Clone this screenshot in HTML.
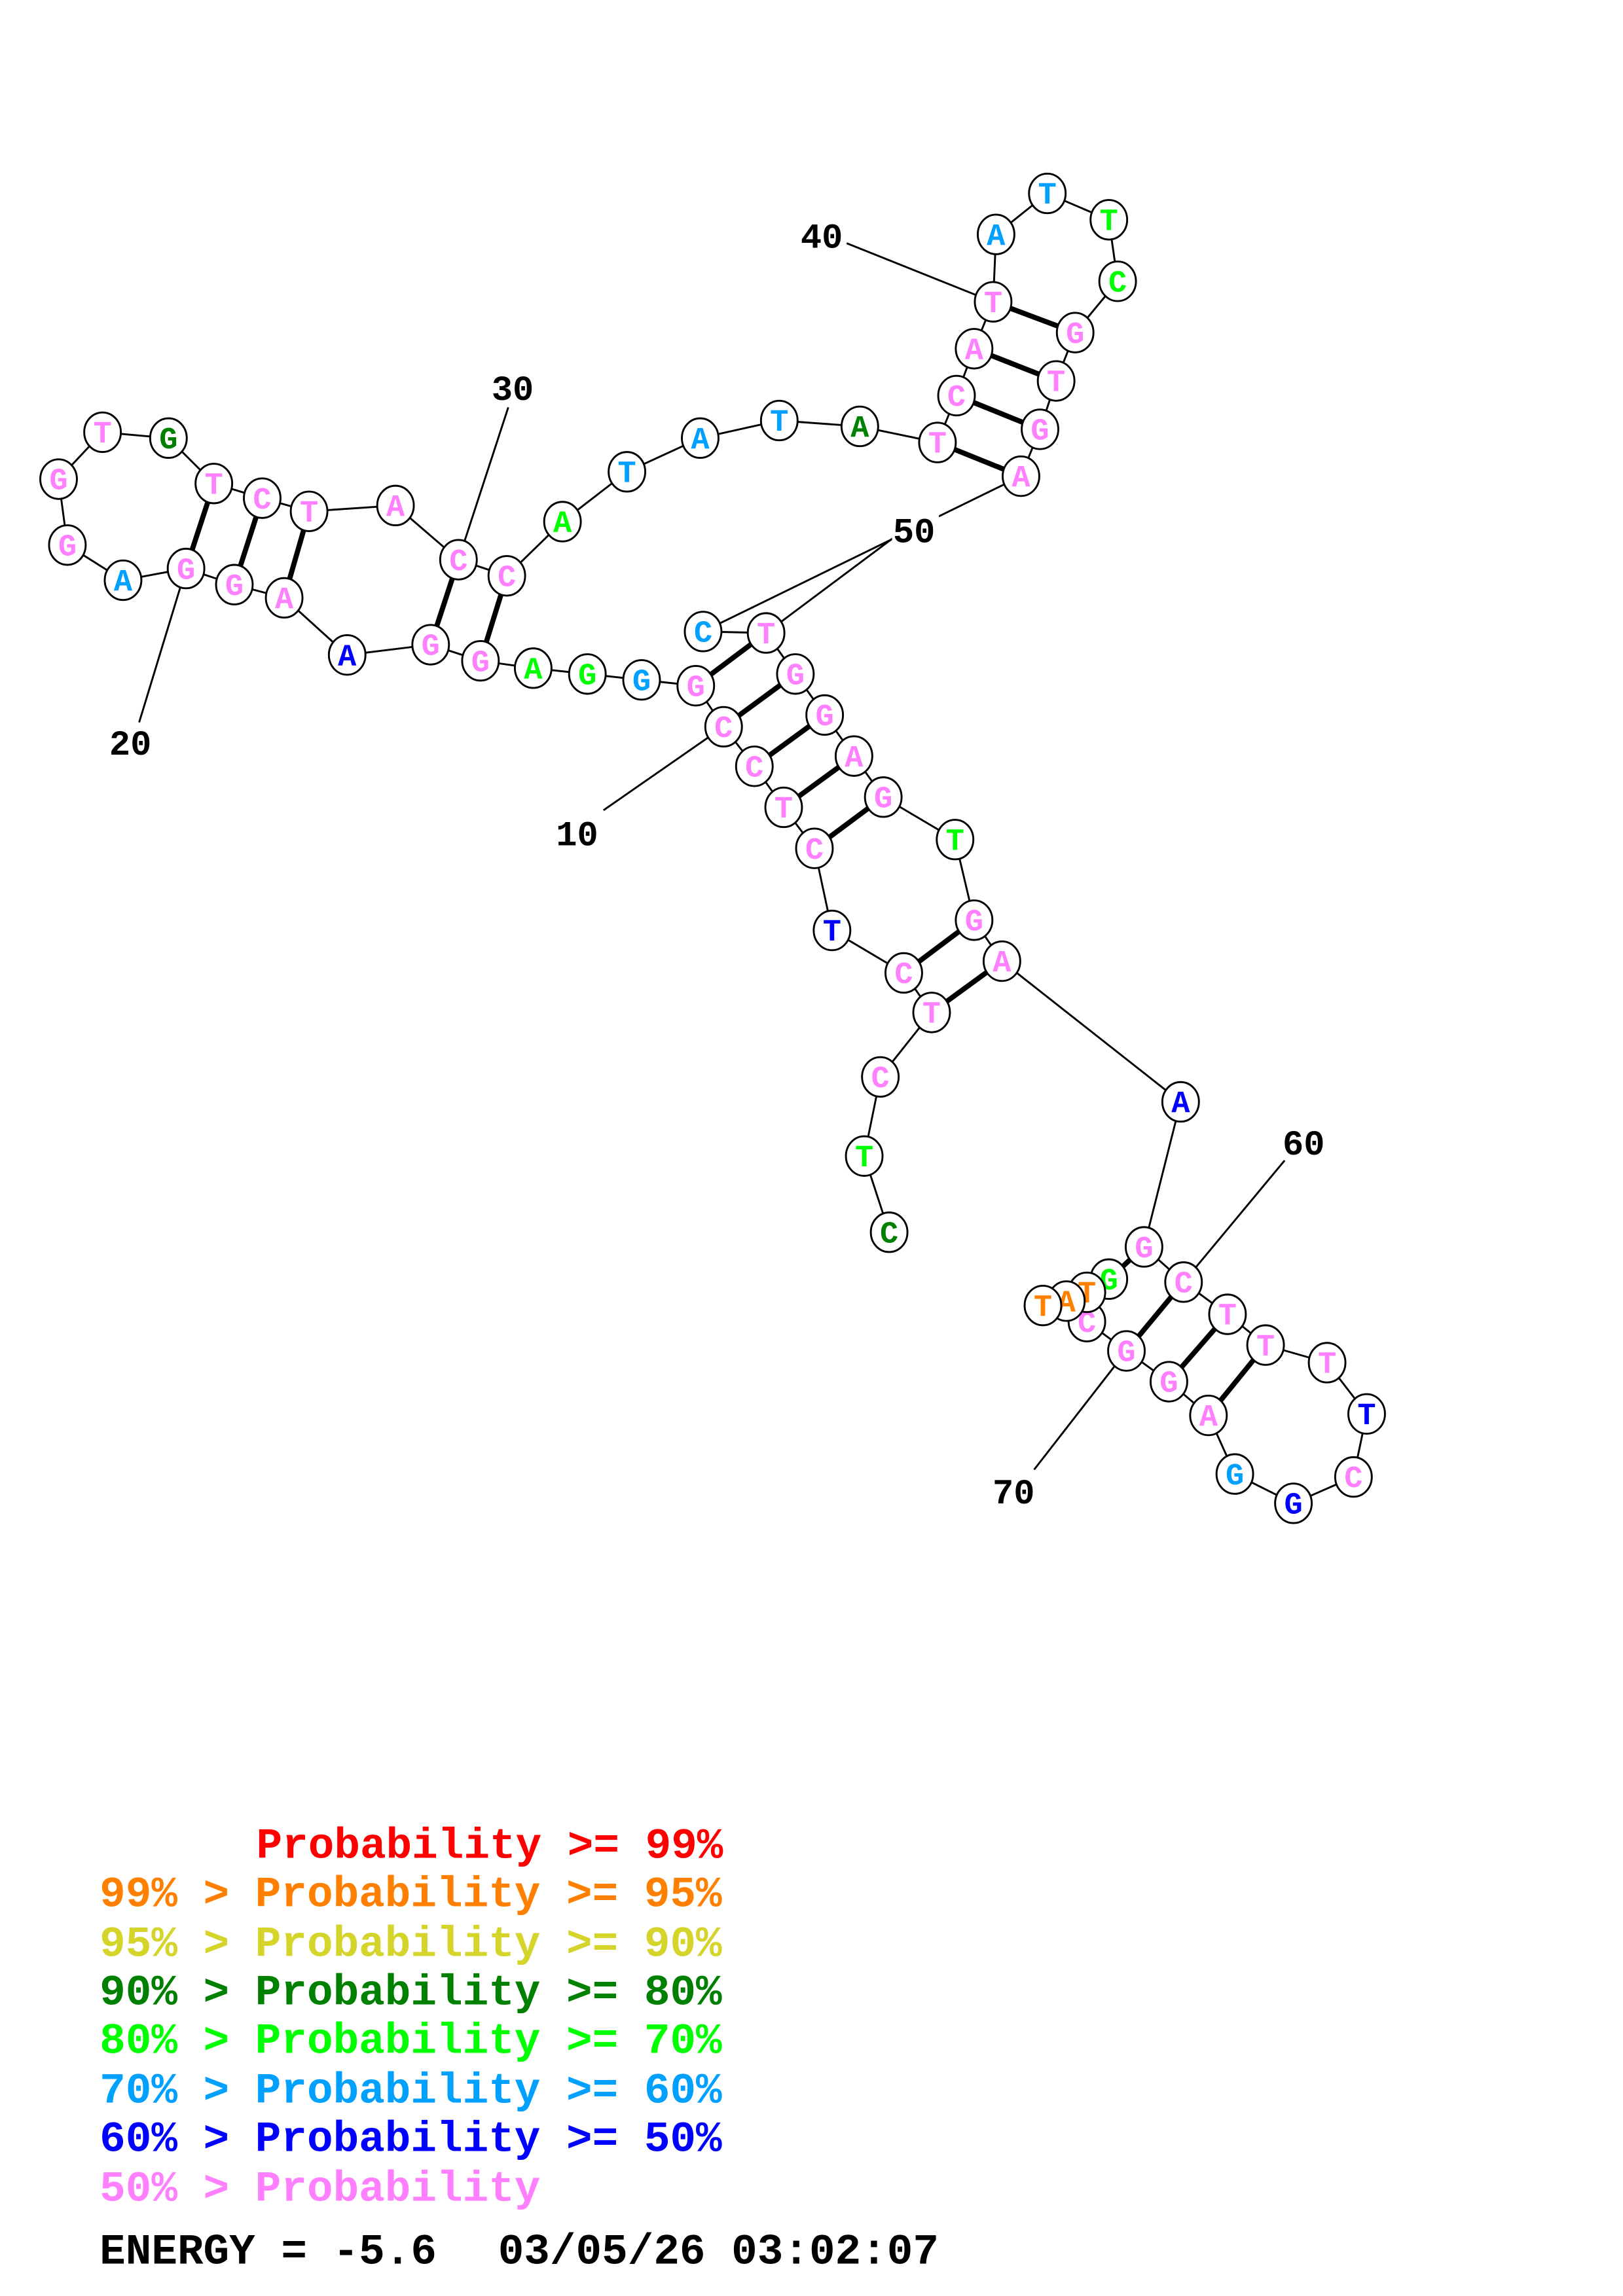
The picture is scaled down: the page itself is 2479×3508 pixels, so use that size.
<!DOCTYPE html>
<html><head><meta charset="utf-8"><style>
html,body{margin:0;padding:0;background:#fff;}
svg{display:block;}
.n{font-family:"Liberation Mono",monospace;font-weight:bold;font-size:21px;text-anchor:middle;}
.l{font-family:"Liberation Mono",monospace;font-weight:bold;font-size:24px;text-anchor:middle;fill:#000;}
.g{font-family:"Liberation Mono",monospace;font-weight:bold;font-size:29.5px;white-space:pre;}
</style></head><body>
<svg width="2479" height="3508" viewBox="0 0 1108 1567" preserveAspectRatio="none" xmlns="http://www.w3.org/2000/svg">
<rect width="1108" height="1567" fill="#fff"/>
<g stroke="#000" stroke-width="1.3" fill="none">
<line x1="412" y1="553" x2="494" y2="496"/>
<line x1="95" y1="493" x2="127" y2="388"/>
<line x1="347" y1="278" x2="313" y2="382"/>
<line x1="578" y1="166" x2="678" y2="206"/>
<line x1="610" y1="367" x2="523" y2="432"/>
<line x1="877" y1="792" x2="808" y2="875"/>
<line x1="706" y1="1003" x2="769" y2="922"/>
<polyline points="607,841 590,789 601,735 636,691 617,664 568,635 556,579 535,551 515,523 494,496 475,468 438,464 401,460 364,456 328,451 294,440 237,447 194,408 160,399 127,388 84,396 46,372 40,327 70,295 115,299 146,330 179,340 211,349 270,345 313,382 346,393 384,356 428,322 478,299 532,287 587,291 640,302 653,270 665,238 678,206 680,160 715,132 757,150 763,192 734,227 721,260 710,293 697,325 480,431 523,432 543,460 563,488 583,516 603,544 652,573 665,628 684,656 806,752 781,851 808,875 838,897 864,918 906,930 933,965 924,1008 883,1026 843,1006 825,966 798,943 769,922 742,902 757,873 742,882 728,888 712,891"/>
</g>
<g stroke="#000" stroke-width="3.5">
<line x1="636" y1="691" x2="684" y2="656"/>
<line x1="617" y1="664" x2="665" y2="628"/>
<line x1="556" y1="579" x2="603" y2="544"/>
<line x1="535" y1="551" x2="583" y2="516"/>
<line x1="515" y1="523" x2="563" y2="488"/>
<line x1="494" y1="496" x2="543" y2="460"/>
<line x1="475" y1="468" x2="523" y2="432"/>
<line x1="328" y1="451" x2="346" y2="393"/>
<line x1="294" y1="440" x2="313" y2="382"/>
<line x1="194" y1="408" x2="211" y2="349"/>
<line x1="160" y1="399" x2="179" y2="340"/>
<line x1="127" y1="388" x2="146" y2="330"/>
<line x1="640" y1="302" x2="697" y2="325"/>
<line x1="653" y1="270" x2="710" y2="293"/>
<line x1="665" y1="238" x2="721" y2="260"/>
<line x1="678" y1="206" x2="734" y2="227"/>
<line x1="757" y1="873" x2="781" y2="851"/>
<line x1="769" y1="922" x2="808" y2="875"/>
<line x1="798" y1="943" x2="838" y2="897"/>
<line x1="825" y1="966" x2="864" y2="918"/>
</g>
<text class="l" x="394" y="577">10</text>
<text class="l" x="89" y="515">20</text>
<text class="l" x="350" y="273">30</text>
<text class="l" x="561" y="169">40</text>
<rect x="609" y="350" width="32" height="22" fill="#fff"/>
<text class="l" x="624" y="370">50</text>
<text class="l" x="890" y="788">60</text>
<text class="l" x="692" y="1026">70</text>
<g class="n">
<ellipse cx="607" cy="841" rx="12.5" ry="13.5" fill="#fff" stroke="#000" stroke-width="1.3"/><text x="607" y="848" fill="#008000">C</text>
<ellipse cx="590" cy="789" rx="12.5" ry="13.5" fill="#fff" stroke="#000" stroke-width="1.3"/><text x="590" y="796" fill="#00ff00">T</text>
<ellipse cx="601" cy="735" rx="12.5" ry="13.5" fill="#fff" stroke="#000" stroke-width="1.3"/><text x="601" y="742" fill="#ff80ff">C</text>
<ellipse cx="636" cy="691" rx="12.5" ry="13.5" fill="#fff" stroke="#000" stroke-width="1.3"/><text x="636" y="698" fill="#ff80ff">T</text>
<ellipse cx="617" cy="664" rx="12.5" ry="13.5" fill="#fff" stroke="#000" stroke-width="1.3"/><text x="617" y="671" fill="#ff80ff">C</text>
<ellipse cx="568" cy="635" rx="12.5" ry="13.5" fill="#fff" stroke="#000" stroke-width="1.3"/><text x="568" y="642" fill="#0000ff">T</text>
<ellipse cx="556" cy="579" rx="12.5" ry="13.5" fill="#fff" stroke="#000" stroke-width="1.3"/><text x="556" y="586" fill="#ff80ff">C</text>
<ellipse cx="535" cy="551" rx="12.5" ry="13.5" fill="#fff" stroke="#000" stroke-width="1.3"/><text x="535" y="558" fill="#ff80ff">T</text>
<ellipse cx="515" cy="523" rx="12.5" ry="13.5" fill="#fff" stroke="#000" stroke-width="1.3"/><text x="515" y="530" fill="#ff80ff">C</text>
<ellipse cx="494" cy="496" rx="12.5" ry="13.5" fill="#fff" stroke="#000" stroke-width="1.3"/><text x="494" y="503" fill="#ff80ff">C</text>
<ellipse cx="475" cy="468" rx="12.5" ry="13.5" fill="#fff" stroke="#000" stroke-width="1.3"/><text x="475" y="475" fill="#ff80ff">G</text>
<ellipse cx="438" cy="464" rx="12.5" ry="13.5" fill="#fff" stroke="#000" stroke-width="1.3"/><text x="438" y="471" fill="#00a0ff">G</text>
<ellipse cx="401" cy="460" rx="12.5" ry="13.5" fill="#fff" stroke="#000" stroke-width="1.3"/><text x="401" y="467" fill="#00ff00">G</text>
<ellipse cx="364" cy="456" rx="12.5" ry="13.5" fill="#fff" stroke="#000" stroke-width="1.3"/><text x="364" y="463" fill="#00ff00">A</text>
<ellipse cx="328" cy="451" rx="12.5" ry="13.5" fill="#fff" stroke="#000" stroke-width="1.3"/><text x="328" y="458" fill="#ff80ff">G</text>
<ellipse cx="294" cy="440" rx="12.5" ry="13.5" fill="#fff" stroke="#000" stroke-width="1.3"/><text x="294" y="447" fill="#ff80ff">G</text>
<ellipse cx="237" cy="447" rx="12.5" ry="13.5" fill="#fff" stroke="#000" stroke-width="1.3"/><text x="237" y="454" fill="#0000ff">A</text>
<ellipse cx="194" cy="408" rx="12.5" ry="13.5" fill="#fff" stroke="#000" stroke-width="1.3"/><text x="194" y="415" fill="#ff80ff">A</text>
<ellipse cx="160" cy="399" rx="12.5" ry="13.5" fill="#fff" stroke="#000" stroke-width="1.3"/><text x="160" y="406" fill="#ff80ff">G</text>
<ellipse cx="127" cy="388" rx="12.5" ry="13.5" fill="#fff" stroke="#000" stroke-width="1.3"/><text x="127" y="395" fill="#ff80ff">G</text>
<ellipse cx="84" cy="396" rx="12.5" ry="13.5" fill="#fff" stroke="#000" stroke-width="1.3"/><text x="84" y="403" fill="#00a0ff">A</text>
<ellipse cx="46" cy="372" rx="12.5" ry="13.5" fill="#fff" stroke="#000" stroke-width="1.3"/><text x="46" y="379" fill="#ff80ff">G</text>
<ellipse cx="40" cy="327" rx="12.5" ry="13.5" fill="#fff" stroke="#000" stroke-width="1.3"/><text x="40" y="334" fill="#ff80ff">G</text>
<ellipse cx="70" cy="295" rx="12.5" ry="13.5" fill="#fff" stroke="#000" stroke-width="1.3"/><text x="70" y="302" fill="#ff80ff">T</text>
<ellipse cx="115" cy="299" rx="12.5" ry="13.5" fill="#fff" stroke="#000" stroke-width="1.3"/><text x="115" y="306" fill="#008000">G</text>
<ellipse cx="146" cy="330" rx="12.5" ry="13.5" fill="#fff" stroke="#000" stroke-width="1.3"/><text x="146" y="337" fill="#ff80ff">T</text>
<ellipse cx="179" cy="340" rx="12.5" ry="13.5" fill="#fff" stroke="#000" stroke-width="1.3"/><text x="179" y="347" fill="#ff80ff">C</text>
<ellipse cx="211" cy="349" rx="12.5" ry="13.5" fill="#fff" stroke="#000" stroke-width="1.3"/><text x="211" y="356" fill="#ff80ff">T</text>
<ellipse cx="270" cy="345" rx="12.5" ry="13.5" fill="#fff" stroke="#000" stroke-width="1.3"/><text x="270" y="352" fill="#ff80ff">A</text>
<ellipse cx="313" cy="382" rx="12.5" ry="13.5" fill="#fff" stroke="#000" stroke-width="1.3"/><text x="313" y="389" fill="#ff80ff">C</text>
<ellipse cx="346" cy="393" rx="12.5" ry="13.5" fill="#fff" stroke="#000" stroke-width="1.3"/><text x="346" y="400" fill="#ff80ff">C</text>
<ellipse cx="384" cy="356" rx="12.5" ry="13.5" fill="#fff" stroke="#000" stroke-width="1.3"/><text x="384" y="363" fill="#00ff00">A</text>
<ellipse cx="428" cy="322" rx="12.5" ry="13.5" fill="#fff" stroke="#000" stroke-width="1.3"/><text x="428" y="329" fill="#00a0ff">T</text>
<ellipse cx="478" cy="299" rx="12.5" ry="13.5" fill="#fff" stroke="#000" stroke-width="1.3"/><text x="478" y="306" fill="#00a0ff">A</text>
<ellipse cx="532" cy="287" rx="12.5" ry="13.5" fill="#fff" stroke="#000" stroke-width="1.3"/><text x="532" y="294" fill="#00a0ff">T</text>
<ellipse cx="587" cy="291" rx="12.5" ry="13.5" fill="#fff" stroke="#000" stroke-width="1.3"/><text x="587" y="298" fill="#008000">A</text>
<ellipse cx="640" cy="302" rx="12.5" ry="13.5" fill="#fff" stroke="#000" stroke-width="1.3"/><text x="640" y="309" fill="#ff80ff">T</text>
<ellipse cx="653" cy="270" rx="12.5" ry="13.5" fill="#fff" stroke="#000" stroke-width="1.3"/><text x="653" y="277" fill="#ff80ff">C</text>
<ellipse cx="665" cy="238" rx="12.5" ry="13.5" fill="#fff" stroke="#000" stroke-width="1.3"/><text x="665" y="245" fill="#ff80ff">A</text>
<ellipse cx="678" cy="206" rx="12.5" ry="13.5" fill="#fff" stroke="#000" stroke-width="1.3"/><text x="678" y="213" fill="#ff80ff">T</text>
<ellipse cx="680" cy="160" rx="12.5" ry="13.5" fill="#fff" stroke="#000" stroke-width="1.3"/><text x="680" y="167" fill="#00a0ff">A</text>
<ellipse cx="715" cy="132" rx="12.5" ry="13.5" fill="#fff" stroke="#000" stroke-width="1.3"/><text x="715" y="139" fill="#00a0ff">T</text>
<ellipse cx="757" cy="150" rx="12.5" ry="13.5" fill="#fff" stroke="#000" stroke-width="1.3"/><text x="757" y="157" fill="#00ff00">T</text>
<ellipse cx="763" cy="192" rx="12.5" ry="13.5" fill="#fff" stroke="#000" stroke-width="1.3"/><text x="763" y="199" fill="#00ff00">C</text>
<ellipse cx="734" cy="227" rx="12.5" ry="13.5" fill="#fff" stroke="#000" stroke-width="1.3"/><text x="734" y="234" fill="#ff80ff">G</text>
<ellipse cx="721" cy="260" rx="12.5" ry="13.5" fill="#fff" stroke="#000" stroke-width="1.3"/><text x="721" y="267" fill="#ff80ff">T</text>
<ellipse cx="710" cy="293" rx="12.5" ry="13.5" fill="#fff" stroke="#000" stroke-width="1.3"/><text x="710" y="300" fill="#ff80ff">G</text>
<ellipse cx="697" cy="325" rx="12.5" ry="13.5" fill="#fff" stroke="#000" stroke-width="1.3"/><text x="697" y="332" fill="#ff80ff">A</text>
<ellipse cx="480" cy="431" rx="12.5" ry="13.5" fill="#fff" stroke="#000" stroke-width="1.3"/><text x="480" y="438" fill="#00a0ff">C</text>
<ellipse cx="523" cy="432" rx="12.5" ry="13.5" fill="#fff" stroke="#000" stroke-width="1.3"/><text x="523" y="439" fill="#ff80ff">T</text>
<ellipse cx="543" cy="460" rx="12.5" ry="13.5" fill="#fff" stroke="#000" stroke-width="1.3"/><text x="543" y="467" fill="#ff80ff">G</text>
<ellipse cx="563" cy="488" rx="12.5" ry="13.5" fill="#fff" stroke="#000" stroke-width="1.3"/><text x="563" y="495" fill="#ff80ff">G</text>
<ellipse cx="583" cy="516" rx="12.5" ry="13.5" fill="#fff" stroke="#000" stroke-width="1.3"/><text x="583" y="523" fill="#ff80ff">A</text>
<ellipse cx="603" cy="544" rx="12.5" ry="13.5" fill="#fff" stroke="#000" stroke-width="1.3"/><text x="603" y="551" fill="#ff80ff">G</text>
<ellipse cx="652" cy="573" rx="12.5" ry="13.5" fill="#fff" stroke="#000" stroke-width="1.3"/><text x="652" y="580" fill="#00ff00">T</text>
<ellipse cx="665" cy="628" rx="12.5" ry="13.5" fill="#fff" stroke="#000" stroke-width="1.3"/><text x="665" y="635" fill="#ff80ff">G</text>
<ellipse cx="684" cy="656" rx="12.5" ry="13.5" fill="#fff" stroke="#000" stroke-width="1.3"/><text x="684" y="663" fill="#ff80ff">A</text>
<ellipse cx="806" cy="752" rx="12.5" ry="13.5" fill="#fff" stroke="#000" stroke-width="1.3"/><text x="806" y="759" fill="#0000ff">A</text>
<ellipse cx="781" cy="851" rx="12.5" ry="13.5" fill="#fff" stroke="#000" stroke-width="1.3"/><text x="781" y="858" fill="#ff80ff">G</text>
<ellipse cx="808" cy="875" rx="12.5" ry="13.5" fill="#fff" stroke="#000" stroke-width="1.3"/><text x="808" y="882" fill="#ff80ff">C</text>
<ellipse cx="838" cy="897" rx="12.5" ry="13.5" fill="#fff" stroke="#000" stroke-width="1.3"/><text x="838" y="904" fill="#ff80ff">T</text>
<ellipse cx="864" cy="918" rx="12.5" ry="13.5" fill="#fff" stroke="#000" stroke-width="1.3"/><text x="864" y="925" fill="#ff80ff">T</text>
<ellipse cx="906" cy="930" rx="12.5" ry="13.5" fill="#fff" stroke="#000" stroke-width="1.3"/><text x="906" y="937" fill="#ff80ff">T</text>
<ellipse cx="933" cy="965" rx="12.5" ry="13.5" fill="#fff" stroke="#000" stroke-width="1.3"/><text x="933" y="972" fill="#0000ff">T</text>
<ellipse cx="924" cy="1008" rx="12.5" ry="13.5" fill="#fff" stroke="#000" stroke-width="1.3"/><text x="924" y="1015" fill="#ff80ff">C</text>
<ellipse cx="883" cy="1026" rx="12.5" ry="13.5" fill="#fff" stroke="#000" stroke-width="1.3"/><text x="883" y="1033" fill="#0000ff">G</text>
<ellipse cx="843" cy="1006" rx="12.5" ry="13.5" fill="#fff" stroke="#000" stroke-width="1.3"/><text x="843" y="1013" fill="#00a0ff">G</text>
<ellipse cx="825" cy="966" rx="12.5" ry="13.5" fill="#fff" stroke="#000" stroke-width="1.3"/><text x="825" y="973" fill="#ff80ff">A</text>
<ellipse cx="798" cy="943" rx="12.5" ry="13.5" fill="#fff" stroke="#000" stroke-width="1.3"/><text x="798" y="950" fill="#ff80ff">G</text>
<ellipse cx="769" cy="922" rx="12.5" ry="13.5" fill="#fff" stroke="#000" stroke-width="1.3"/><text x="769" y="929" fill="#ff80ff">G</text>
<ellipse cx="757" cy="873" rx="12.5" ry="13.5" fill="#fff" stroke="#000" stroke-width="1.3"/><text x="757" y="880" fill="#00ff00">G</text>
<ellipse cx="742" cy="902" rx="12.5" ry="13.5" fill="#fff" stroke="#000" stroke-width="1.3"/><text x="742" y="909" fill="#ff80ff">C</text>
<ellipse cx="742" cy="882" rx="12.5" ry="13.5" fill="#fff" stroke="#000" stroke-width="1.3"/><text x="742" y="889" fill="#ff8000">T</text>
<ellipse cx="728" cy="888" rx="12.5" ry="13.5" fill="#fff" stroke="#000" stroke-width="1.3"/><text x="728" y="895" fill="#ff8000">A</text>
<ellipse cx="712" cy="891" rx="12.5" ry="13.5" fill="#fff" stroke="#000" stroke-width="1.3"/><text x="712" y="898" fill="#ff8000">T</text>
</g>
<g class="g">
<text x="175" y="1268" fill="#ff0000">Probability &gt;= 99%</text>
<text x="68" y="1301" fill="#ff8000">99% &gt; Probability &gt;= 95%</text>
<text x="68" y="1335" fill="#d4d42a">95% &gt; Probability &gt;= 90%</text>
<text x="68" y="1368" fill="#008000">90% &gt; Probability &gt;= 80%</text>
<text x="68" y="1401" fill="#00ff00">80% &gt; Probability &gt;= 70%</text>
<text x="68" y="1435" fill="#00a0ff">70% &gt; Probability &gt;= 60%</text>
<text x="68" y="1468" fill="#0000ff">60% &gt; Probability &gt;= 50%</text>
<text x="68" y="1502" fill="#ff80ff">50% &gt; Probability</text>
<text x="68" y="1545" fill="#000">ENERGY = -5.6</text>
<text x="340" y="1545" fill="#000">03/05/26 03:02:07</text>
</g>
</svg>
</body></html>
